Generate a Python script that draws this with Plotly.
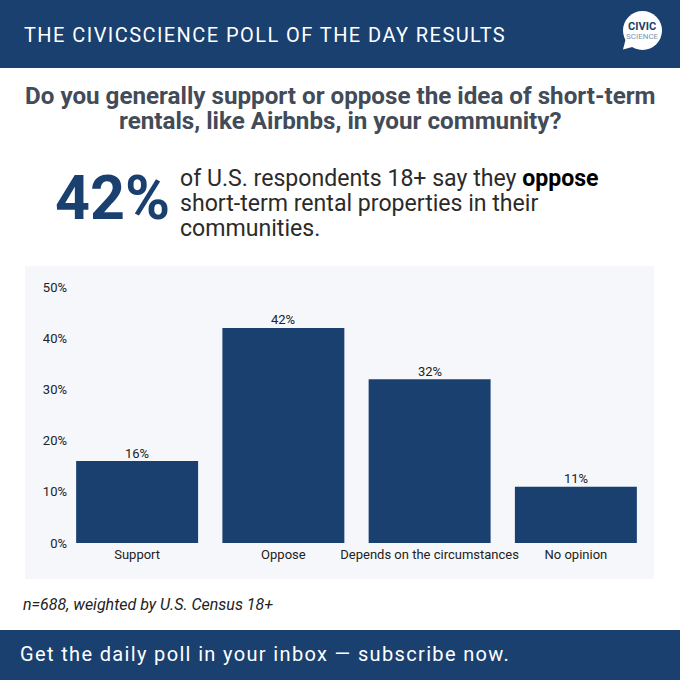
import plotly.graph_objects as go

categories = ["Support", "Oppose", "Depends on the circumstances", "No opinion"]
values = [16, 42, 32, 11]
tick_vals = [0, 10, 20, 30, 40, 50]
tick_labels = ["0%", "10%", "20%", "30%", "40%", "50%"]

NAVY = "#1a4070"
W = H = 680.0
def fx(p): return p / W
def fy(p): return 1 - p / H

fig = go.Figure(go.Bar(
    x=categories, y=values, width=0.834, marker=dict(color=NAVY, line=dict(width=0)),
    hoverinfo="skip",
))

def rect(x0, y0, x1, y1, color):
    return dict(type="rect", xref="paper", yref="paper", x0=fx(x0), x1=fx(x1), y0=fy(y1), y1=fy(y0),
                fillcolor=color, line=dict(width=0), layer="below")

shapes = [
    rect(0, 0, 680, 68, NAVY),
    rect(25, 266, 654, 579, "#f6f7fb"),
    rect(0, 630, 680, 680, NAVY),
    dict(type="circle", xref="paper", yref="paper", x0=fx(623), x1=fx(662), y0=fy(50), y1=fy(11),
         fillcolor="white", line=dict(width=0), layer="below"),
    dict(type="path", xref="paper", yref="paper",
         path=f"M {fx(626)} {fy(38)} L {fx(623)} {fy(49.5)} L {fx(636)} {fy(46)} Z",
         fillcolor="white", line=dict(width=0), layer="below"),
]

def note(text, x, y, size, color, xanchor="left", yanchor="middle", align="left", family="Roboto", **kw):
    return dict(text=text, xref="paper", yref="paper", x=fx(x), y=fy(y), showarrow=False,
                xanchor=xanchor, yanchor=yanchor, align=align,
                font=dict(family=family, size=size, color=color), **kw)

T = '<span style="font-size:24.2px"><b>%s</b></span>'
B = '<span style="font-size:23.1px">%s</span>'
annotations = [
    note("THE CIVICSCIENCE POLL OF THE DAY RESULTS", 22, 35, 20, "white"),
    note('<span style="font-size:11px;color:#1a4070"><b>CIVIC</b></span><br>'
         '<span style="font-size:8px;color:#7f93ad">SCIENCE</span>', 642.5, 30.5, 7, NAVY,
         xanchor="center", align="center", family="Roboto"),
    note(T % "Do you generally support or oppose the idea of short-term" + "<br>" +
         T % "rentals, like Airbnbs, in your community?",
         340, 108, 19.5, "#424b57", xanchor="center", align="center"),
    note("<b>42%</b>", 53, 198, 61, NAVY),
    note(B % 'of U.S. respondents 18+ say they <b style="color:#000">oppose</b>' + "<br>" +
         B % "short-term rental properties in their" + "<br>" + B % "communities.",
         178, 203, 19.23, "#2b2b2b"),
    note("<i>n=688, weighted by U.S. Census 18+</i>", 21, 604, 16, "#222222"),
    note("Get the daily poll in your inbox — subscribe now.", 18, 654, 20, "white"),
]
for c, v in zip(categories, values):
    annotations.append(dict(text=f"{v}%", xref="x", yref="y", x=c, y=v, showarrow=False,
                            yanchor="middle", yshift=8,
                            font=dict(family="Roboto", size=13, color="#222222")))

fig.update_layout(
    width=680, height=680, margin=dict(l=0, r=0, t=0, b=0),
    paper_bgcolor="white", plot_bgcolor="rgba(0,0,0,0)", showlegend=False,
    shapes=shapes, annotations=annotations,
    font=dict(family="Roboto", color="#222222"),
    xaxis=dict(domain=[fx(64), fx(649)], range=[-0.5, 3.5], showgrid=False, showline=False, zeroline=False,
               ticks="", ticklabelstandoff=2, tickangle=0,
               tickfont=dict(family="Roboto", size=13, color="#222222"), anchor="y", automargin=False),
    yaxis=dict(domain=[fy(543), fy(287)], range=[0, 50], tickmode="array", tickvals=tick_vals, ticktext=tick_labels,
               showgrid=False, showline=False, zeroline=False, ticks="", ticklabelstandoff=-4,
               tickfont=dict(family="Roboto", size=13, color="#222222"), anchor="x", automargin=False),
)
post = """
document.body.style.margin='0';
document.querySelectorAll('.annotation-text').forEach(function(t){
  if (t.textContent.indexOf('THE CIVICSCIENCE')===0) t.style.letterSpacing='1.44px';
  if (t.textContent.indexOf('Get the daily')===0) t.style.letterSpacing='1.35px';
});
"""
fig.write_html("out.html", config={"displayModeBar": False}, post_script=post)
